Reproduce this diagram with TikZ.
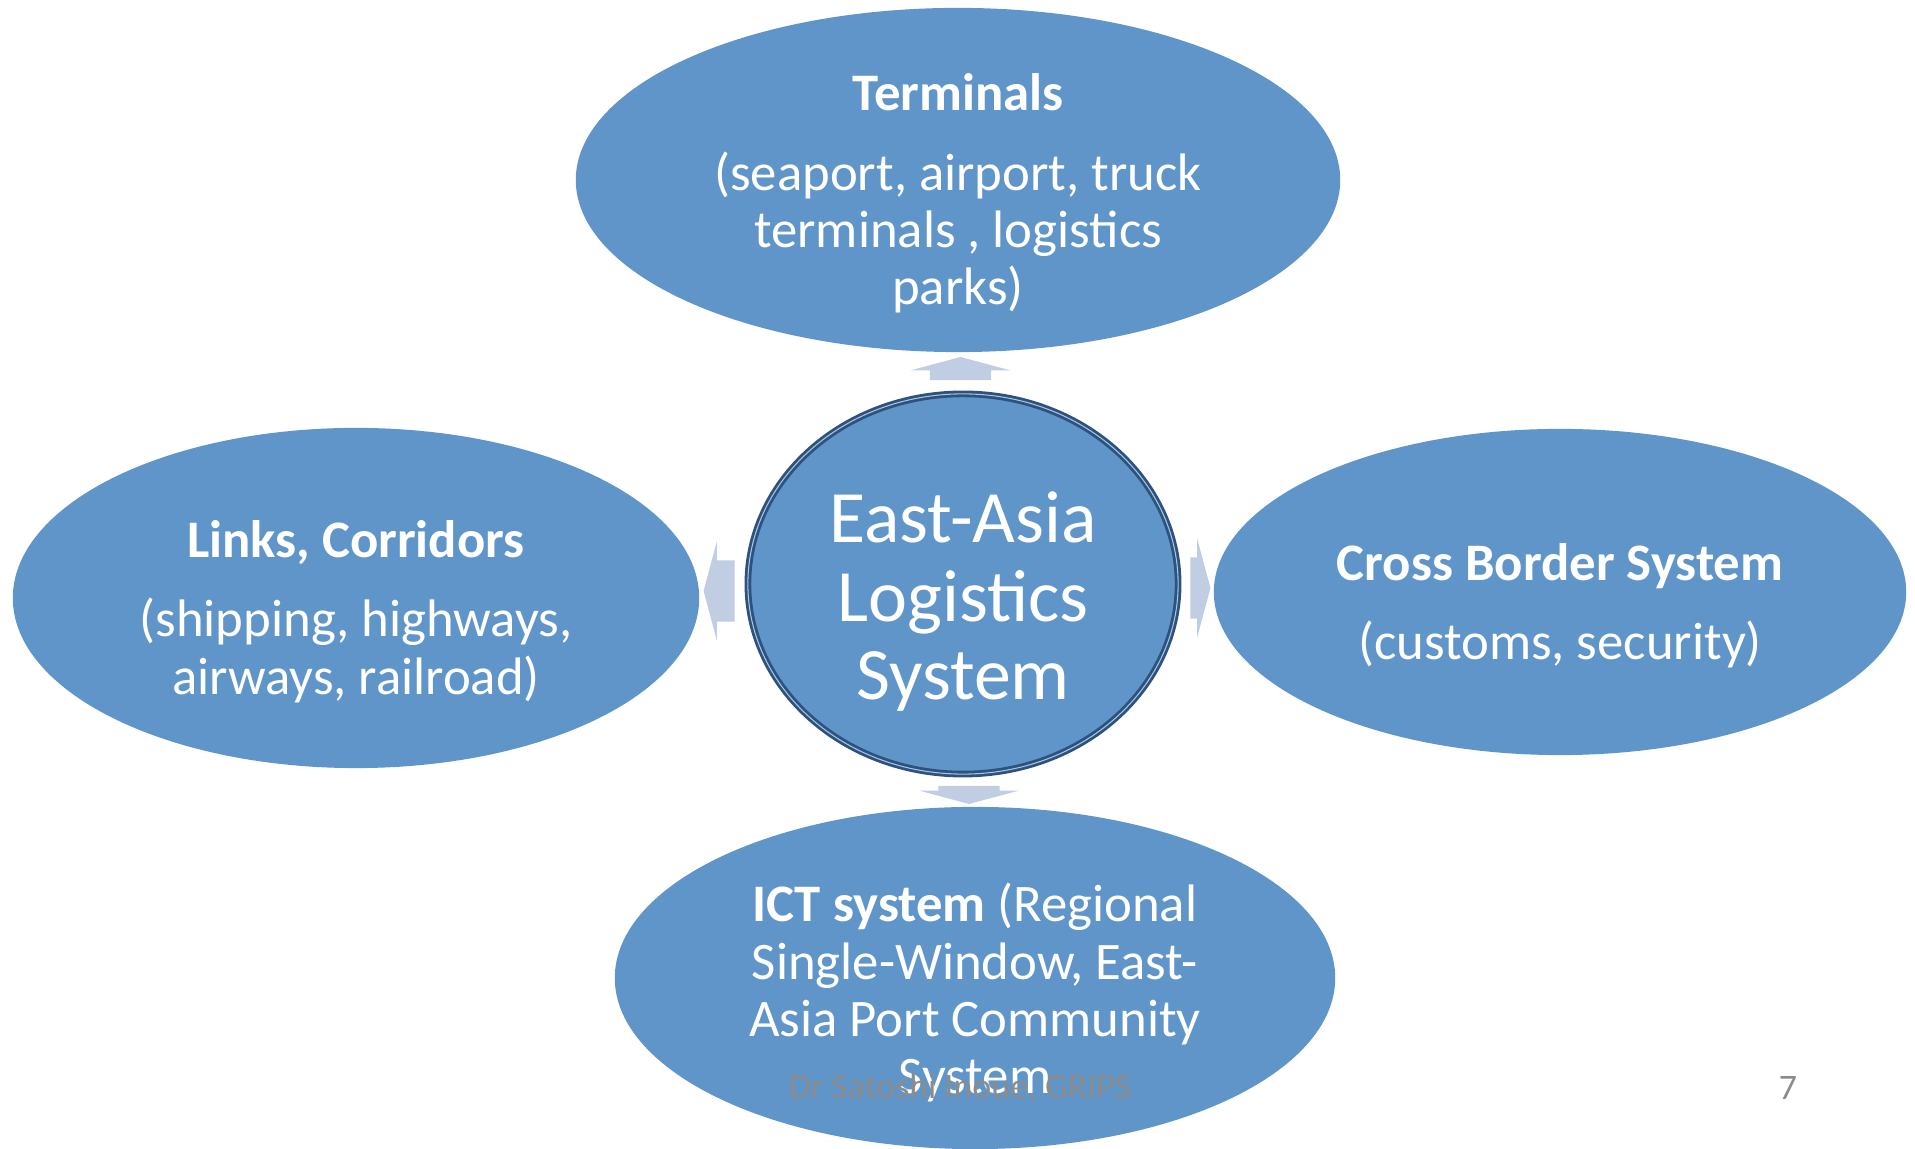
\documentclass[tikz,border=0pt]{standalone}
\usepackage{fontspec}
\setmainfont{Carlito}
\usetikzlibrary{shapes.geometric,shapes.arrows,calc}
\definecolor{ovalblue}{RGB}{96,149,201}
\definecolor{hubline}{RGB}{44,82,125}
\definecolor{arrowgray}{RGB}{192,205,227}
\definecolor{footgray}{RGB}{140,140,140}
\newcommand{\ovalstrut}[1]{\rule{0pt}{#1}}

\begin{document}
\begin{tikzpicture}
  [x=0.01cm, y=0.01cm,
    oval/.style={ellipse, fill=ovalblue, text=white, inner sep=-0.3cm,
    align=center, font=\fontsize{15}{16.3}\selectfont},
    hub/.style={oval, draw=hubline, line width=0.8pt,
    double=ovalblue!55!white, double distance=0.3pt,
    font=\fontsize{21}{22.2}\selectfont},
    blockarrow/.style={single arrow, fill=arrowgray, inner sep=0pt,
    text height=0.3cm, text depth=0.3cm, text width=0pt,
    single arrow head extend=0.19cm, single arrow tip angle=150},
    footer/.style={text=footgray, font=\fontsize{10.2}{12}\selectfont}]
  \useasboundingbox (0,0) rectangle (1915,1149);
  \node[oval, minimum width=7.64cm, minimum height=3.44cm] (term) at (958,969)
    {\ovalstrut{0.64cm}\textbf{Terminals}\\[0.22cm](seaport, airport, truck\\terminals , logistics\\parks)};
  \node[oval, minimum width=6.86cm, minimum height=3.40cm] (links) at (356,551)
    {\ovalstrut{0.64cm}\textbf{Links, Corridors}\\[0.22cm](shipping, highways,\\airways, railroad)};
  \node[oval, minimum width=6.92cm, minimum height=3.26cm] (cross) at (1560,557)
    {\ovalstrut{0.64cm}\textbf{Cross Border System}\\[0.22cm](customs, security)};
  \node[oval, minimum width=7.20cm, minimum height=3.42cm] (ict) at (975,171)
    {\ovalstrut{0.68cm}\textbf{ICT system} (Regional\\Single-Window, East-\\Asia Port Community\\System};
  \node[hub, minimum width=4.30cm, minimum height=3.80cm] (hub) at (963,565)
    {\ovalstrut{0.86cm}East-Asia\\Logistics\\System};
  \node[blockarrow, minimum height=0.23cm, rotate=90] (toterm)
    at ($(hub.north)!0.5!(term.south)$) {};
  \node[blockarrow, minimum height=0.31cm, rotate=180] (tolinks)
    at ($(hub.west)!0.5!(links.east)$) {};
  \node[blockarrow, minimum height=0.20cm] (tocross)
    at ($(hub.east)!0.5!(cross.west)$) {};
  \node[blockarrow, minimum height=0.18cm, rotate=-90] (toict)
    at ($(hub.south)!0.5!(ict.north)$) {};
  \node[footer] (credit) at (960,61) {Dr Satoshi Inoue, GRIPS};
  \node[footer] (pageno) at (1788,61) {7};
\end{tikzpicture}
\end{document}
